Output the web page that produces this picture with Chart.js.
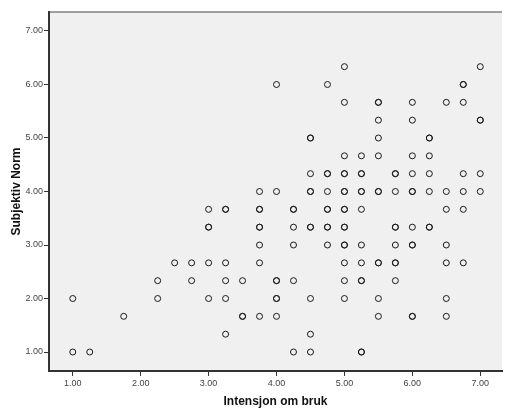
<!DOCTYPE html>
<html>
<head>
<meta charset="utf-8">
<script src="https://cdn.jsdelivr.net/npm/chart.js@4.4.1/dist/chart.umd.min.js"></script>
<style>
    html, body { margin: 0; padding: 0; background: #fff; }
</style>
</head>
<body>
<canvas id="scatterChart" width="506" height="415"></canvas>
<script>
// Data, one entry per plotted circle; antall = number of overlapping cases (bold circles)
const intensjon = [
    5.0, 7.0,
    4.0, 4.75, 6.75,
    5.0, 5.5, 6.0, 6.5, 6.75,
    5.5, 6.0, 7.0,
    4.5, 5.5, 6.25,
    5.0, 5.25, 5.5, 6.0, 6.25,
    4.5, 4.75, 5.0, 5.25, 5.75, 6.0, 6.25, 6.75, 7.0,
    3.75, 4.0, 4.5, 4.75, 5.0, 5.25, 5.5, 5.75, 6.0, 6.25, 6.5, 6.75, 7.0,
    3.0, 3.25, 3.75, 4.25, 4.75, 5.0, 5.25, 6.5, 6.75,
    3.0, 3.75, 4.25, 4.5, 4.75, 5.0, 5.75, 6.0, 6.25,
    3.75, 4.25, 4.75, 5.0, 5.25, 5.75, 6.0, 6.5,
    2.5, 2.75, 3.0, 3.25, 3.75, 5.0, 5.25, 5.5, 5.75, 6.5, 6.75,
    2.25, 2.75, 3.25, 3.5, 4.0, 4.25, 5.0, 5.25, 5.75,
    1.0, 2.25, 3.0, 3.25, 4.0, 4.5, 5.0, 5.5, 6.5,
    1.75, 3.5, 3.75, 4.0, 5.5, 6.0, 6.5,
    3.25, 4.5,
    1.0, 1.25, 4.25, 4.5, 5.25
];
const subjektivNorm = [
    19/3, 19/3,
    6, 6, 6,
    17/3, 17/3, 17/3, 17/3, 17/3,
    16/3, 16/3, 16/3,
    5, 5, 5,
    14/3, 14/3, 14/3, 14/3, 14/3,
    13/3, 13/3, 13/3, 13/3, 13/3, 13/3, 13/3, 13/3, 13/3,
    4, 4, 4, 4, 4, 4, 4, 4, 4, 4, 4, 4, 4,
    11/3, 11/3, 11/3, 11/3, 11/3, 11/3, 11/3, 11/3, 11/3,
    10/3, 10/3, 10/3, 10/3, 10/3, 10/3, 10/3, 10/3, 10/3,
    3, 3, 3, 3, 3, 3, 3, 3,
    8/3, 8/3, 8/3, 8/3, 8/3, 8/3, 8/3, 8/3, 8/3, 8/3, 8/3,
    7/3, 7/3, 7/3, 7/3, 7/3, 7/3, 7/3, 7/3, 7/3,
    2, 2, 2, 2, 2, 2, 2, 2, 2,
    5/3, 5/3, 5/3, 5/3, 5/3, 5/3, 5/3,
    4/3, 4/3,
    1, 1, 1, 1, 1
];
const antall = [
    1, 1,
    1, 1, 2,
    1, 2, 1, 1, 1,
    1, 1, 2,
    2, 1, 2,
    1, 1, 1, 1, 1,
    1, 2, 2, 2, 2, 1, 1, 1, 1,
    1, 1, 2, 1, 2, 2, 2, 1, 2, 1, 1, 1, 1,
    1, 2, 2, 2, 2, 2, 1, 1, 1,
    2, 2, 1, 2, 2, 2, 2, 1, 2,
    1, 1, 1, 2, 1, 1, 2, 1,
    1, 1, 1, 1, 1, 1, 1, 2, 2, 1, 1,
    1, 1, 1, 1, 2, 1, 1, 2, 1,
    1, 1, 1, 1, 2, 1, 1, 1, 1,
    1, 2, 1, 1, 1, 2, 1,
    1, 1,
    1, 1, 1, 1, 2
];
const xTickValues = [1, 2, 3, 4, 5, 6, 7];
const yTickValues = [1, 2, 3, 4, 5, 6, 7];

// overlapping cases are drawn on top of each other so the circle gets darker
const points = [];
intensjon.forEach(function (x, i) {
    for (let k = 0; k < antall[i]; k++) {
        points.push({ x: x, y: subjektivNorm[i] });
    }
});

// grey plot background plus the thin line along the top
const plotBackground = {
    id: 'plotBackground',
    beforeDraw(chart) {
        const { ctx, chartArea: a } = chart;
        ctx.save();
        ctx.fillStyle = '#f0f0f0';
        ctx.fillRect(a.left, a.top, a.right - a.left, a.bottom - a.top);
        ctx.strokeStyle = '#808080';
        ctx.lineWidth = 1.5;
        ctx.beginPath();
        ctx.moveTo(a.left, a.top);
        ctx.lineTo(a.right, a.top);
        ctx.stroke();
        ctx.restore();
    }
};

const tickFont = { family: "'Liberation Sans', Arial, sans-serif", size: 9 };
const titleFont = { family: "'Liberation Sans', Arial, sans-serif", size: 12, weight: 'bold' };

new Chart(document.getElementById('scatterChart').getContext('2d'), {
    type: 'scatter',
    data: {
        datasets: [{
            data: points,
            pointStyle: 'circle',
            pointRadius: 3,
            pointHoverRadius: 3,
            borderWidth: 1,
            borderColor: '#1a1a1a',
            backgroundColor: 'rgba(0,0,0,0)'
        }]
    },
    options: {
        responsive: false,
        animation: false,
        layout: { padding: { top: 12, right: 0, left: 0, bottom: 0 } },
        plugins: {
            legend: { display: false },
            tooltip: { enabled: false }
        },
        scales: {
            x: {
                type: 'linear',
                min: 0.65,
                max: 7.32,
                afterBuildTicks: function (s) { s.ticks = xTickValues.map(v => ({ value: v })); },
                afterFit: function (s) { s.height = 44; },
                ticks: {
                    font: tickFont,
                    color: '#444',
                    padding: 2,
                    callback: v => v.toFixed(2)
                },
                grid: { drawOnChartArea: false, drawTicks: true, tickLength: 5, tickColor: '#333' },
                border: { color: '#333', width: 2 },
                title: {
                    display: true,
                    text: 'Intensjon om bruk',
                    font: titleFont,
                    color: '#111',
                    padding: { top: 0, bottom: 6 }
                }
            },
            y: {
                type: 'linear',
                min: 0.645,
                max: 7.355,
                afterBuildTicks: function (s) { s.ticks = yTickValues.map(v => ({ value: v })); },
                afterFit: function (s) { s.width = 49; },
                ticks: {
                    font: tickFont,
                    color: '#444',
                    padding: 1,
                    callback: v => v.toFixed(2)
                },
                grid: { drawOnChartArea: false, drawTicks: true, tickLength: 5, tickColor: '#333' },
                border: { color: '#333', width: 2 },
                title: {
                    display: true,
                    text: 'Subjektiv Norm',
                    font: titleFont,
                    color: '#111',
                    padding: { top: 9, bottom: 0 }
                }
            }
        }
    },
    plugins: [plotBackground]
});
</script>
</body>
</html>
